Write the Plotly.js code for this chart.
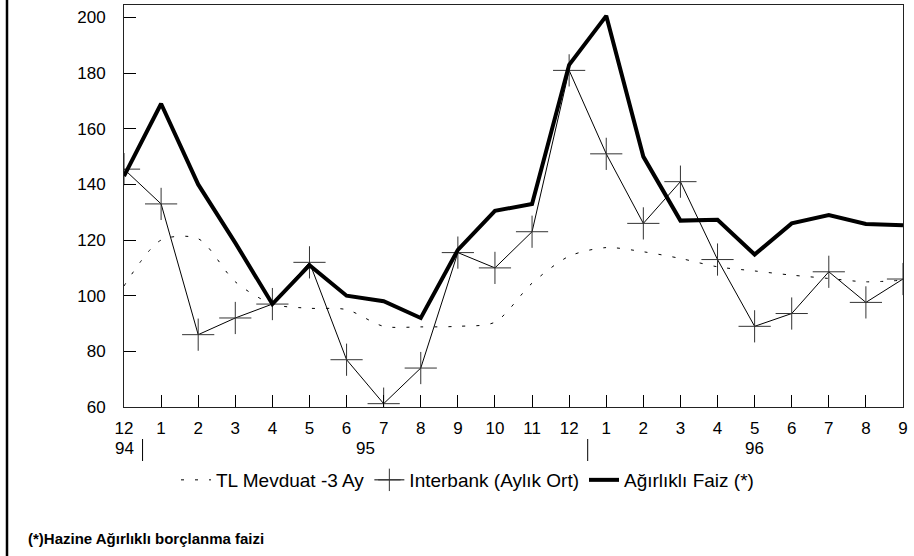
<!DOCTYPE html>
<html>
<head>
<meta charset="utf-8">
<script src="https://cdn.plot.ly/plotly-3.0.1.min.js"></script>
<style>
html,body{margin:0;padding:0;background:#fff;}
#chart{width:914px;height:556px;}
</style>
</head>
<body>
<div id="chart"></div>
<script>
// Data
const months = ['12','1','2','3','4','5','6','7','8','9','10','11','12','1','2','3','4','5','6','7','8','9'];
const years  = ['94','95','95','95','95','95','95','95','95','95','95','95','95','96','96','96','96','96','96','96','96','96'];
const mevduat   = [103.5, 120, 120.5, 105, 97, 95.5, 95, 89, 88.8, 89, 90.5, 104.5, 114.2, 117.3, 115.8, 113.4, 110.4, 108.9, 107.4, 106.2, 105, 105.6];
const interbank = [145.5, 133, 86, 92, 97, 112, 77, 61.2, 74, 115.5, 110, 123, 181, 151, 126, 141, 113, 89, 93.6, 108.6, 97.6, 106];
const agirlikli = [143, 169, 140, 119, 97, 111, 100, 98, 92, 116.5, 130.5, 133, 183, 200.6, 150, 127, 127.3, 114.8, 126, 129, 125.8, 125.3];
const seriesNames = ['TL Mevduat -3 Ay', 'Interbank (Aylık Ort)', 'Ağırlıklı Faiz (*)'];
const footnote = '(*)Hazine Ağırlıklı borçlanma faizi';
const yTicks = [60, 80, 100, 120, 140, 160, 180, 200];

const idx = months.map((m, i) => i);
const FONT = 'Liberation Sans, Arial, sans-serif';

// geometry helpers (pixel layout)
const W = 914, H = 556;
const M = {l: 124, r: 11, t: 5, b: 149};
const plotH = H - M.t - M.b;
const plotW = W - M.l - M.r;
const py = px => (H - M.b - px) / plotH;   // pixel y -> paper y
const pxx = px => (px - M.l) / plotW;      // pixel x -> paper x

// year groups: label at midpoint of each year's indices, separators at boundaries
const yearGroups = [];
years.forEach((y, i) => {
  const g = yearGroups.length ? yearGroups[yearGroups.length - 1] : null;
  if (g && g.year === y) g.last = i; else yearGroups.push({year: y, first: i, last: i});
});

const annotations = yearGroups.map(g => ({
  x: (g.first + g.last) / 2, xref: 'x', y: py(448), yref: 'paper',
  text: g.year, showarrow: false, xanchor: 'center', yanchor: 'middle',
  font: {family: FONT, size: 17, color: '#000'}
}));
annotations.push({
  x: pxx(26), xref: 'paper', y: py(538), yref: 'paper', text: '<b>' + footnote + '</b>',
  showarrow: false, xanchor: 'left', yanchor: 'middle',
  font: {family: FONT, size: 15, color: '#000'}
});

const shapes = yearGroups.slice(0, -1).map(g => ({
  type: 'line', xref: 'x', yref: 'paper', x0: g.last + 0.5, x1: g.last + 0.5,
  y0: py(439), y1: py(461), line: {color: '#000', width: 1}
}));
shapes.push({
  type: 'line', xref: 'paper', yref: 'paper', x0: pxx(7), x1: pxx(7),
  y0: py(0), y1: py(556), line: {color: '#000', width: 2.5}
});

const traces = [
  {x: idx, y: mevduat, name: seriesNames[0], mode: 'lines',
   line: {color: '#000', width: 1, dash: '3px,11px', shape: 'spline', smoothing: 0.8}},
  {x: idx, y: interbank, name: seriesNames[1], mode: 'lines+markers',
   line: {color: '#000', width: 1},
   marker: {symbol: 'cross-thin', size: 23, line: {color: '#333', width: 1}, color: '#333'}},
  {x: idx, y: agirlikli, name: seriesNames[2], mode: 'lines',
   line: {color: '#000', width: 4}}
];

const layout = {
  width: W, height: H,
  margin: M,
  paper_bgcolor: '#fff', plot_bgcolor: '#fff',
  font: {family: FONT, color: '#000'},
  showlegend: true,
  legend: {orientation: 'h', x: pxx(176), xanchor: 'left', y: py(480), yanchor: 'middle',
           font: {family: FONT, size: 19, color: '#000'}, itemwidth: 30, traceorder: 'normal',
           bgcolor: 'rgba(0,0,0,0)'},
  xaxis: {
    range: [0, idx.length - 1], tickmode: 'array', tickvals: idx, ticktext: months,
    ticks: 'inside', ticklen: 12, tickcolor: '#000', tickwidth: 1,
    showline: true, linecolor: '#222', linewidth: 1, mirror: true,
    showgrid: false, zeroline: false, ticklabelstandoff: 6,
    tickfont: {family: FONT, size: 17, color: '#000'}
  },
  yaxis: {
    range: [60, 204.5], tickmode: 'array', tickvals: yTicks,
    ticks: 'inside', ticklen: 12, tickcolor: '#000', tickwidth: 1,
    showline: true, linecolor: '#222', linewidth: 1, mirror: true,
    showgrid: false, zeroline: false, ticklabelstandoff: 14,
    tickfont: {family: FONT, size: 17, color: '#000'}
  },
  annotations: annotations,
  shapes: shapes
};

Plotly.newPlot('chart', traces, layout, {displayModeBar: false, staticPlot: true});
</script>
</body>
</html>
